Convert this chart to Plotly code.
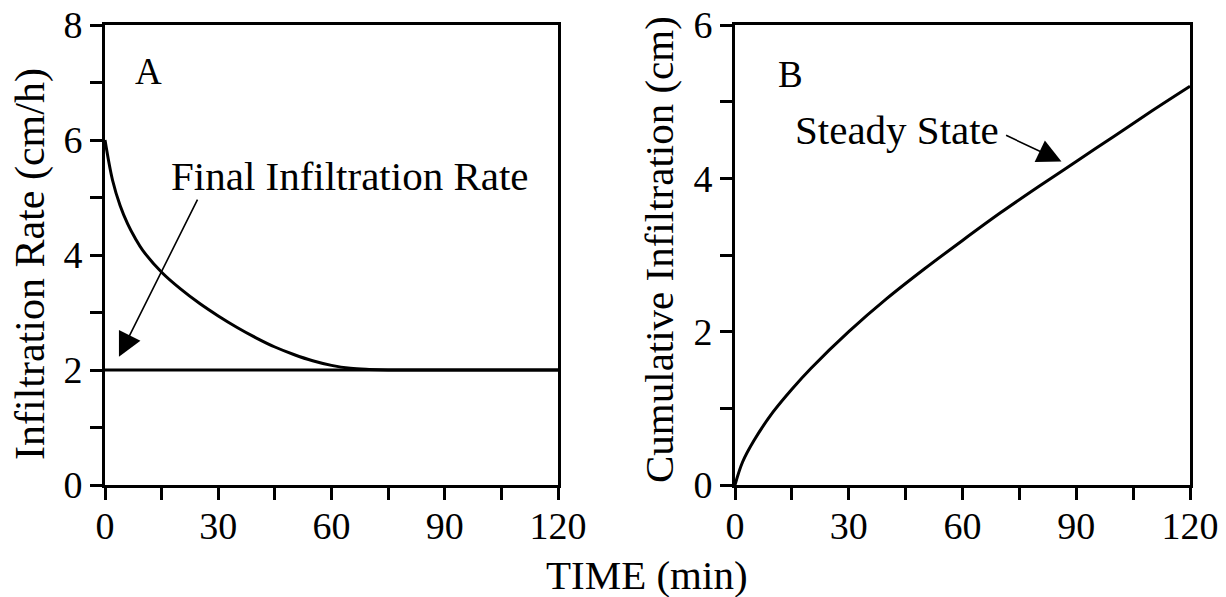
import plotly.graph_objects as go

# Panel A: infiltration rate (cm/h) vs time (min)
time_a = [0, 2, 4, 6, 8, 10, 15, 20, 25, 30, 35, 40, 45, 50, 55, 60, 65, 70, 75, 80, 90, 100, 110, 120]
rate_a = [6.0, 5.3, 4.86, 4.54, 4.29, 4.08, 3.70, 3.41, 3.16, 2.94, 2.74, 2.56, 2.40, 2.27, 2.16, 2.08, 2.03, 2.01, 2.0, 2.0, 2.0, 2.0, 2.0, 2.0]
final_time = [0, 120]
final_rate = [2.0, 2.0]

# Panel B: cumulative infiltration (cm) vs time (min)
time_b = [0, 2, 5, 10, 15, 20, 30, 40, 50, 60, 70, 80, 90, 100, 110, 120]
cum_b = [0, 0.3, 0.58, 0.95, 1.25, 1.52, 2.0, 2.43, 2.82, 3.19, 3.55, 3.89, 4.22, 4.55, 4.88, 5.2]

FONT = "Liberation Serif, Times New Roman, serif"
W, H = 1226, 597
OFF = 8  # page body margin offset

fig = go.Figure()
fig.add_trace(go.Scatter(x=time_a, y=rate_a, mode="lines", line=dict(color="black", width=3, shape="spline", smoothing=1.0),
                         xaxis="x", yaxis="y", showlegend=False))
fig.add_trace(go.Scatter(x=final_time, y=final_rate, mode="lines", line=dict(color="black", width=3),
                         xaxis="x", yaxis="y", showlegend=False))
fig.add_trace(go.Scatter(x=time_b, y=cum_b, mode="lines", line=dict(color="black", width=3, shape="spline", smoothing=1.0),
                         xaxis="x2", yaxis="y2", showlegend=False))

def px_x(p):
    return (p - OFF) / W

def px_y(p):
    return 1 - (p - OFF) / H

common = dict(showline=True, linecolor="black", linewidth=3, mirror=True, ticks="outside",
              ticklen=12, tickwidth=3, tickcolor="black", showgrid=False, zeroline=False,
              tickfont=dict(family=FONT, size=38, color="black"), fixedrange=True, automargin=False,
              ticklabeloverflow="allow")
minor_x = dict(dtick=15, ticks="outside", ticklen=12, tickwidth=3, tickcolor="black", showgrid=False)
minor_y = dict(dtick=1, ticks="outside", ticklen=12, tickwidth=3, tickcolor="black", showgrid=False)

ydom = [px_y(485), px_y(25)]
fig.update_layout(
    width=W, height=H,
    margin=dict(l=0, r=0, t=0, b=0, pad=0, autoexpand=False),
    paper_bgcolor="white", plot_bgcolor="white",
    font=dict(family=FONT, color="black"),
    xaxis=dict(domain=[px_x(105), px_x(558)], range=[0, 120], dtick=30, tick0=0, anchor="y", minor=minor_x,
               ticklabelstandoff=-7, **common),
    yaxis=dict(domain=ydom, range=[0, 8], dtick=2, tick0=0, anchor="x", minor=minor_y, **common),
    xaxis2=dict(domain=[px_x(735), px_x(1190)], range=[0, 120], dtick=30, tick0=0, anchor="y2", minor=minor_x,
                ticklabelstandoff=-7, **common),
    yaxis2=dict(domain=ydom, range=[0, 6], dtick=2, tick0=0, anchor="x2", minor=minor_y, **common),
)

tf = dict(family=FONT, size=41, color="black")
ctr = dict(xref="paper", yref="paper", showarrow=False, xanchor="center", yanchor="middle")
ann = [
    dict(text="TIME (min)", x=px_x(647), y=px_y(575), font=tf, **ctr),
    dict(text="Infiltration Rate (cm/h)", x=px_x(30), y=px_y(264), textangle=-90,
         font=dict(family=FONT, size=42, color="black"), **ctr),
    dict(text="Cumulative Infiltration (cm)", x=px_x(659), y=px_y(250), textangle=-90,
         font=dict(family=FONT, size=41, color="black"), **ctr),
    dict(text="A", x=px_x(148), y=px_y(72), font=dict(family=FONT, size=37, color="black"), **ctr),
    dict(text="B", x=px_x(790), y=px_y(75), font=dict(family=FONT, size=37, color="black"), **ctr),
    dict(text="Final Infiltration Rate", x=px_x(350), y=px_y(176), font=tf, **ctr),
    dict(text="Steady State", x=px_x(897), y=px_y(130), font=tf, **ctr),
    # arrows
    dict(text="", x=3.7, y=2.23, xref="x", yref="y", ax=24.7, ay=4.99, axref="x", ayref="y",
         showarrow=True, arrowhead=2, arrowwidth=1.6, arrowsize=3, arrowcolor="black", standoff=0),
    dict(text="", x=86.1, y=4.22, xref="x2", yref="y2", ax=71.1, ay=4.57, axref="x2", ayref="y2",
         showarrow=True, arrowhead=2, arrowwidth=1.6, arrowsize=3, arrowcolor="black", standoff=0),
]
fig.update_layout(annotations=ann)

fig.write_html("out.html", config={"displayModeBar": False})
